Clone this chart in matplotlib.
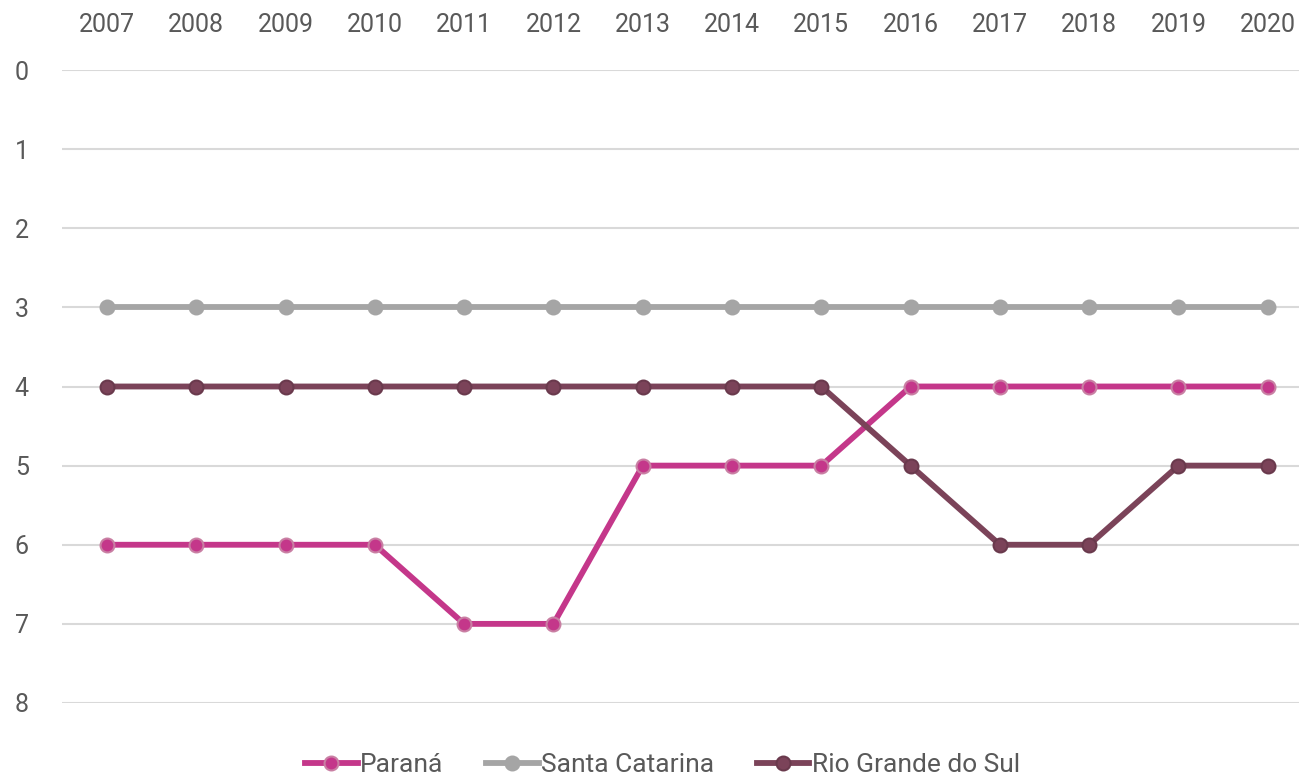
import matplotlib
matplotlib.use('Agg')
import matplotlib.pyplot as plt

anos = list(range(2007, 2021))
parana = [6, 6, 6, 6, 7, 7, 5, 5, 5, 4, 4, 4, 4, 4]
santa_catarina = [3] * 14
rio_grande = [4, 4, 4, 4, 4, 4, 4, 4, 4, 5, 6, 6, 5, 5]

plt.rcParams['font.family'] = ['Roboto', 'DejaVu Sans']

fig = plt.figure(figsize=(12.99, 7.79), dpi=100)
ax = fig.add_axes([62 / 1299, 76 / 779, 1 - 62 / 1299, 633 / 779])

ax.plot(anos, parana, color='#C4378A', lw=4.2, marker='o', ms=10,
        mfc='#C4378A', mec='#C97FA3', mew=1.5, label='Paraná', zorder=3)
ax.plot(anos, santa_catarina, color='#A5A5A5', lw=4.2, marker='o', ms=10,
        mfc='#A5A5A5', mec='#A5A5A5', mew=1.5, label='Santa Catarina', zorder=3)
ax.plot(anos, rio_grande, color='#7B4359', lw=4.2, marker='o', ms=10,
        mfc='#7B4359', mec='#6A3A4D', mew=1.5, label='Rio Grande do Sul', zorder=3)

ax.set_xlim(2006.496, 2020.35)
ax.set_ylim(8, 0)
ax.set_xticks(anos)
ax.set_yticks(range(0, 9))
ax.xaxis.tick_top()
ax.tick_params(axis='both', length=0, labelsize=18, labelcolor='#595959')
ax.tick_params(axis='x', pad=24)
ax.tick_params(axis='y', pad=24)

ax.grid(axis='y', color='#D9D9D9', lw=1.5)
ax.grid(axis='x', visible=False)
for s in ax.spines.values():
    s.set_visible(False)

fig.legend(loc='lower center', ncol=3, frameon=False, fontsize=19,
           bbox_to_anchor=(0.51, -0.028), handlelength=2.0, handletextpad=0.1,
           columnspacing=1.6, labelcolor='#595959')

fig.savefig('out.png', dpi=100)
